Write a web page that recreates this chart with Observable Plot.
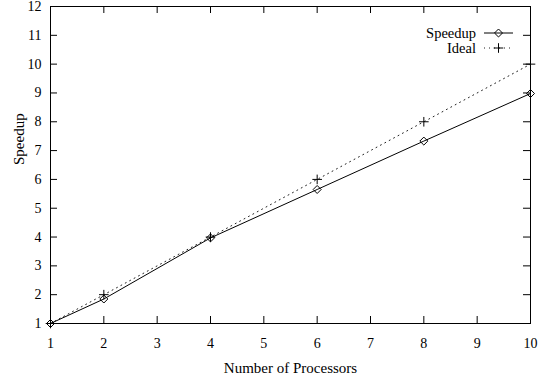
<!DOCTYPE html>
<html><head>
<meta charset="utf-8">
<script src="https://cdn.jsdelivr.net/npm/d3@7"></script>
<script src="https://cdn.jsdelivr.net/npm/@observablehq/plot@0.6"></script>
<style>body{margin:0;background:#fff}</style>
</head><body><div id="chart"></div>
<script>
const processors = [1, 2, 4, 6, 8, 10];
const speedup = [1, 1.85, 3.97, 5.65, 7.33, 8.98];
const ideal = [1, 2, 4, 6, 8, 10];
const xTicks = [1, 2, 3, 4, 5, 6, 7, 8, 9, 10];
const yTicks = [1, 2, 3, 4, 5, 6, 7, 8, 9, 10, 11, 12];
const seriesNames = ["Speedup", "Ideal"];
const xLabel = "Number of Processors";
const yLabel = "Speedup";

const W = 545, H = 383, mt = 6, mr = 15, mb = 60, ml = 50;
const innerW = W - ml - mr, innerH = H - mt - mb, tk = 7;
const font = "Liberation Serif, Times New Roman, serif";

const sData = processors.map((p, i) => ({p, v: speedup[i]}));
const iData = processors.map((p, i) => ({p, v: ideal[i]}));

const plot = Plot.plot({
  width: W, height: H,
  marginTop: mt, marginRight: mr, marginBottom: mb, marginLeft: ml,
  style: {fontFamily: font, fontSize: "14px", background: "white", color: "black"},
  x: {domain: [1, 10], axis: null},
  y: {domain: [1, 12], axis: null},
  marks: [
    Plot.tickX(xTicks, {x: d => d, insetTop: innerH - tk, stroke: "black"}),
    Plot.tickX(xTicks, {x: d => d, insetBottom: innerH - tk, stroke: "black"}),
    Plot.tickY(yTicks, {y: d => d, insetRight: innerW - tk, stroke: "black"}),
    Plot.tickY(yTicks, {y: d => d, insetLeft: innerW - tk, stroke: "black"}),
    Plot.frame({stroke: "black"}),
    Plot.text(xTicks, {x: d => d, frameAnchor: "bottom", dy: 20, lineAnchor: "middle", text: d => String(d), fill: "black"}),
    Plot.text(yTicks, {y: d => d, frameAnchor: "left", dx: -9, textAnchor: "end", text: d => String(d), fill: "black"}),
    Plot.text([xLabel], {frameAnchor: "bottom", dy: 45, lineAnchor: "middle", fill: "black", fontSize: 15, letterSpacing: "1px"}),
    Plot.text([yLabel], {frameAnchor: "left", dx: -31, rotate: -90, fill: "black", fontSize: 15}),
    Plot.line(iData, {x: "p", y: "v", stroke: "#222", strokeWidth: 1, strokeDasharray: "1,4"}),
    Plot.dot(iData, {x: "p", y: "v", symbol: "plus", r: 3.2, stroke: "black", strokeWidth: 1}),
    Plot.line(sData, {x: "p", y: "v", stroke: "black", strokeWidth: 1}),
    Plot.dot(sData, {x: "p", y: "v", symbol: "diamond2", r: 3.6, stroke: "black", fill: "none", strokeWidth: 1})
  ]
});
document.getElementById("chart").appendChild(plot);

// legend inside the plot frame, top-right
const svg = d3.select(plot);
const g = svg.append("g").attr("font-family", font).attr("font-size", 14.5);
const lx0 = W - mr - 46, lx1 = W - mr - 17, lxm = (lx0 + lx1) / 2;
seriesNames.forEach((name, i) => {
  const y = mt + 27 + i * 15;
  g.append("text").attr("x", lx0 - 8).attr("y", y).attr("dy", "0.32em")
    .attr("text-anchor", "end").attr("fill", "black").text(name);
  g.append("line").attr("x1", lx0).attr("x2", lx1).attr("y1", y).attr("y2", y)
    .attr("stroke", i === 0 ? "black" : "#222").attr("stroke-dasharray", i === 0 ? null : "1,4");
  const sym = i === 0 ? d3.symbolDiamond2 : d3.symbolPlus;
  const r = i === 0 ? 3.6 : 3.2;
  g.append("path").attr("transform", `translate(${lxm},${y})`)
    .attr("d", d3.symbol(sym, r * r * Math.PI)())
    .attr("fill", "none").attr("stroke", "black");
});
</script>
</body></html>
